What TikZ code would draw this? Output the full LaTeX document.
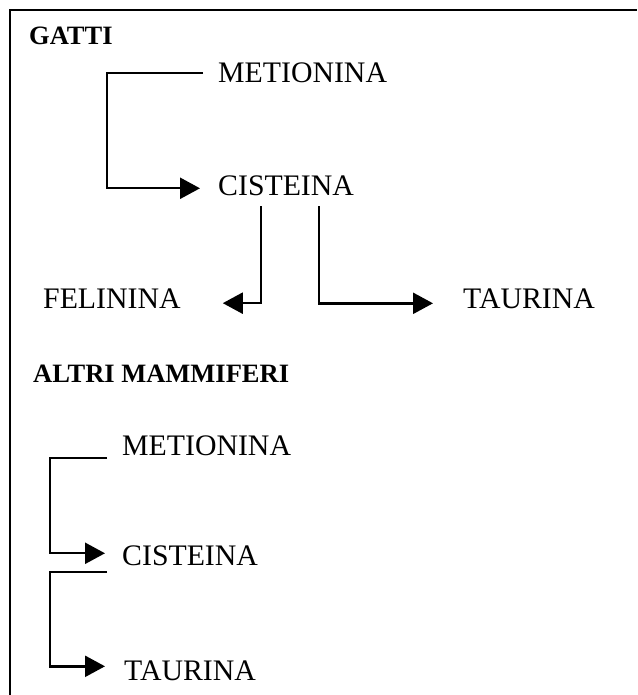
\documentclass[tikz,border=0pt]{standalone}
\usepackage{fontspec}
\setmainfont{Liberation Serif}
\usetikzlibrary{arrows.meta}
\begin{document}
\begin{tikzpicture}[x=1pt,y=-1pt,
  lbl/.style={anchor=base west,inner sep=0pt,font=\fontsize{29.8}{30}\selectfont},
  hdr/.style={anchor=base west,inner sep=0pt,font=\fontsize{26.5}{27}\selectfont\bfseries},
  conn/.style={line width=2.4pt,-{Triangle[length=20pt,width=21pt]}},
  plain/.style={line width=2.4pt}]
\useasboundingbox (0,0) rectangle (637,695);
\draw[plain] (10,695) -- (10,10) -- (637,10);
% headers
\node[hdr] (gatti) at (29,45) {GATTI};
\node[hdr] (altri) at (33,382) {ALTRI MAMMIFERI};
% cats
\node[lbl] (met1) at (218,83) {METIONINA};
\node[lbl] (cis1) at (218,195) {CISTEINA};
\node[lbl] (fel) at (43,308) {FELININA};
\node[lbl] (tau1) at (463,308) {TAURINA};
% other mammals
\node[lbl] (met2) at (122,455) {METIONINA};
\node[lbl] (cis2) at (122,565) {CISTEINA};
\node[lbl] (tau2) at (124,680) {TAURINA};
% connectors
\draw[conn] ([xshift=-15pt]met1.west) -- ([xshift=-111pt]met1.west) |- ([xshift=-18pt,yshift=-3pt]cis1.west);
\draw[conn] ([xshift=43pt,yshift=-11pt]cis1.base west) |- ([xshift=42pt,yshift=-5pt]fel.east);
\draw[conn] ([xshift=101pt,yshift=-11pt]cis1.base west) |- ([xshift=-30pt,yshift=-5pt]tau1.west);
\draw[conn] ([xshift=-15pt,yshift=-3pt]met2.base west) -- ([xshift=-72pt,yshift=-3pt]met2.base west) |- ([xshift=-17pt,yshift=2pt]cis2.west);
\draw[conn] ([xshift=-15pt,yshift=-7pt]cis2.base west) -- ([xshift=-72pt,yshift=-7pt]cis2.base west) |- ([xshift=-19pt,yshift=4pt]tau2.west);
\end{tikzpicture}
\end{document}
